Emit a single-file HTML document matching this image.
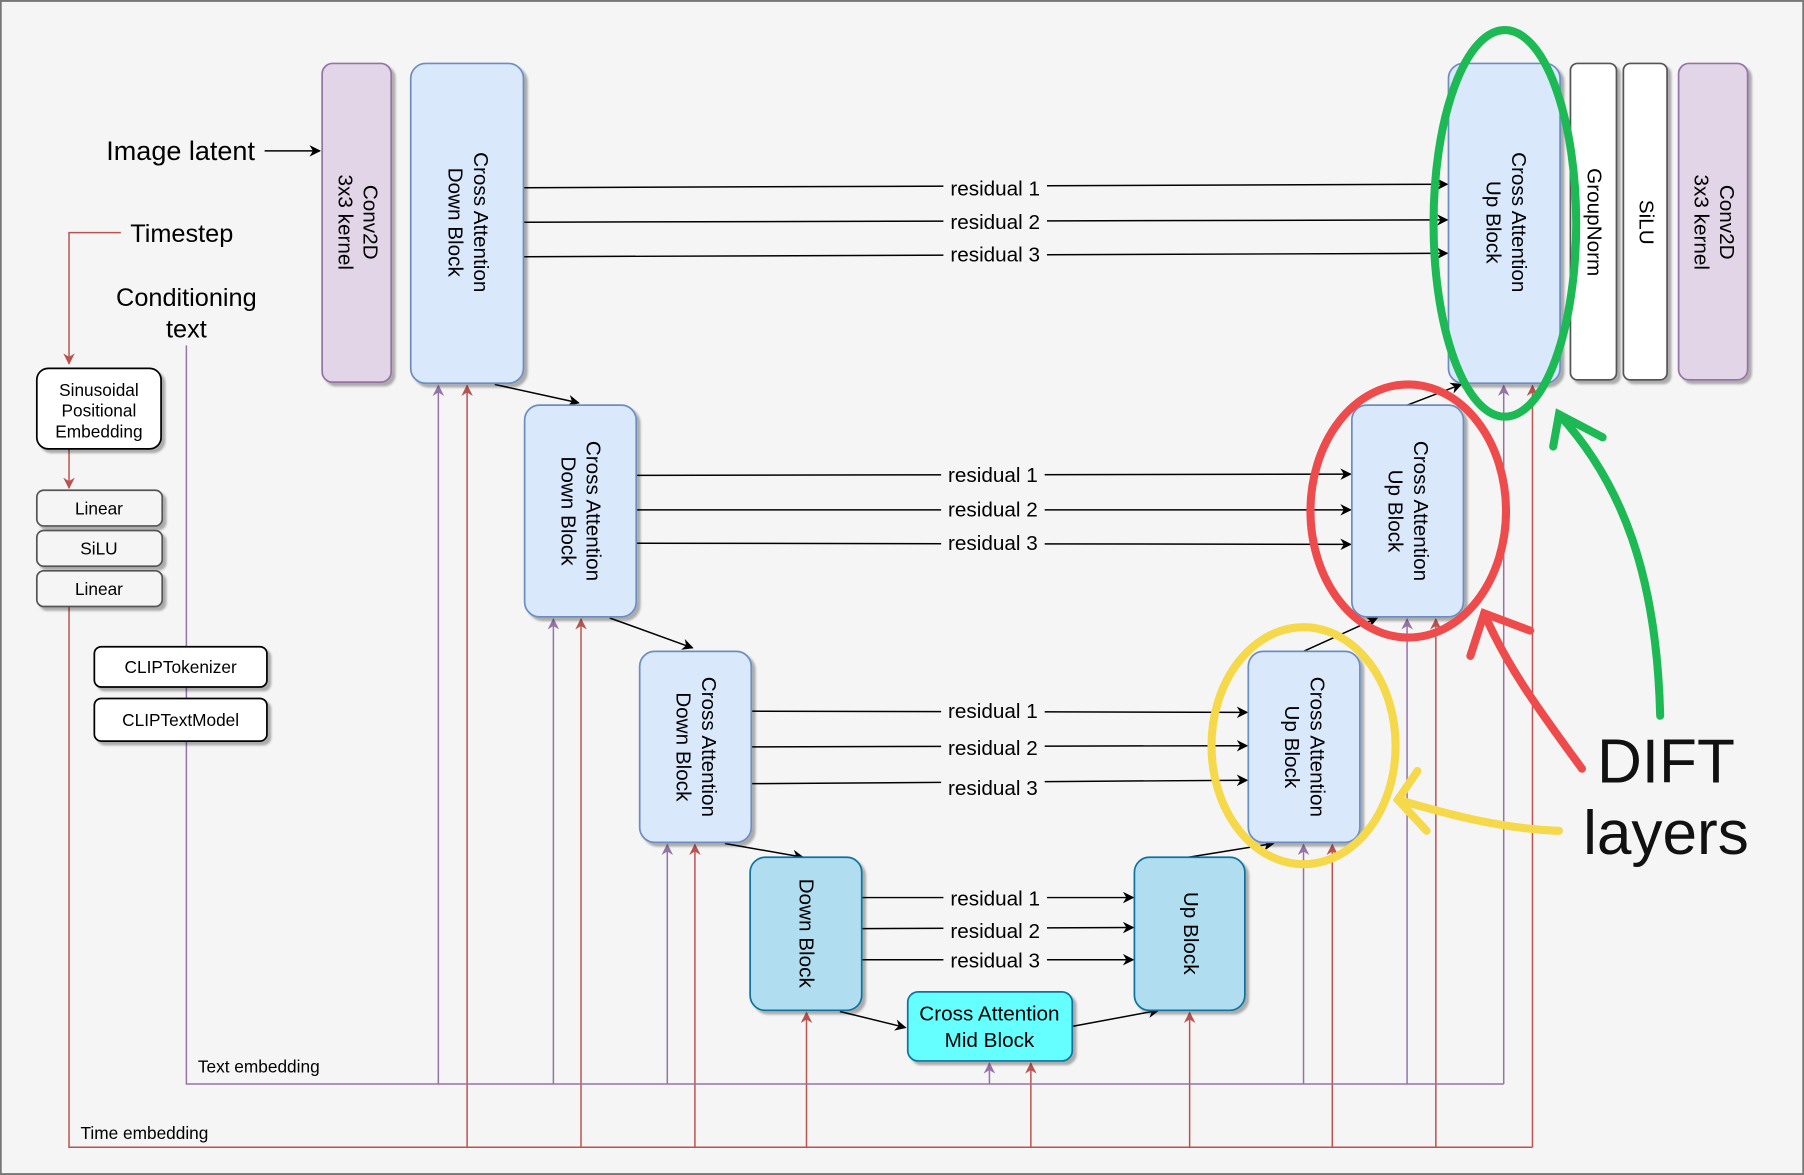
<!DOCTYPE html>
<html><head><meta charset="utf-8"><style>html,body{margin:0;padding:0;background:#f5f5f5}svg{display:block}text{font-family:"Liberation Sans",sans-serif}</style></head>
<body>
<svg width="1804" height="1175" viewBox="0 0 1568 1021" xmlns="http://www.w3.org/2000/svg">
<defs>
<marker id="ab" markerWidth="10" markerHeight="10" refX="9" refY="5" orient="auto" markerUnits="userSpaceOnUse"><path d="M0,0 L10,5 L0,10 L3,5 Z" fill="#000"/></marker>
<marker id="ar" markerWidth="10" markerHeight="10" refX="9" refY="5" orient="auto" markerUnits="userSpaceOnUse"><path d="M0,0 L10,5 L0,10 L3,5 Z" fill="#b85450"/></marker>
<marker id="ap" markerWidth="10" markerHeight="10" refX="9" refY="5" orient="auto" markerUnits="userSpaceOnUse"><path d="M0,0 L10,5 L0,10 L3,5 Z" fill="#9673a6"/></marker>
<filter id="sh" x="-10%" y="-10%" width="130%" height="130%"><feDropShadow dx="3" dy="3" stdDeviation="1" flood-color="#000" flood-opacity="0.3"/></filter>
</defs>
<rect x="0.5" y="0.5" width="1567" height="1020" fill="#f5f5f5" stroke="#777" stroke-width="2"/>

<g stroke="#b85450" stroke-width="1.3" fill="none">
<polyline points="105,202 60,202 60,316" marker-end="url(#ar)"/>
<line x1="60" y1="390" x2="60" y2="424" marker-end="url(#ar)"/>
<polyline points="60,527 60,997 1332,997"/>
<line x1="406" y1="997" x2="406" y2="335" marker-end="url(#ar)"/>
<line x1="505" y1="997" x2="505" y2="538" marker-end="url(#ar)"/>
<line x1="604" y1="997" x2="604" y2="734" marker-end="url(#ar)"/>
<line x1="701" y1="997" x2="701" y2="880" marker-end="url(#ar)"/>
<line x1="896" y1="997" x2="896" y2="924" marker-end="url(#ar)"/>
<line x1="1034" y1="997" x2="1034" y2="880" marker-end="url(#ar)"/>
<line x1="1158" y1="997" x2="1158" y2="734" marker-end="url(#ar)"/>
<line x1="1248" y1="997" x2="1248" y2="538" marker-end="url(#ar)"/>
<line x1="1332" y1="997" x2="1332" y2="335" marker-end="url(#ar)"/>
</g>
<g stroke="#9673a6" stroke-width="1.3" fill="none">
<polyline points="162,300 162,942 1307,942"/>
<line x1="381" y1="942" x2="381" y2="335" marker-end="url(#ap)"/>
<line x1="481" y1="942" x2="481" y2="538" marker-end="url(#ap)"/>
<line x1="580" y1="942" x2="580" y2="734" marker-end="url(#ap)"/>
<line x1="860" y1="942" x2="860" y2="924" marker-end="url(#ap)"/>
<line x1="1133" y1="942" x2="1133" y2="734" marker-end="url(#ap)"/>
<line x1="1223" y1="942" x2="1223" y2="538" marker-end="url(#ap)"/>
<line x1="1307" y1="942" x2="1307" y2="335" marker-end="url(#ap)"/>
</g>
<text x="172" y="932" font-size="15">Text embedding</text>
<text x="70" y="990" font-size="15">Time embedding</text>

<g stroke="#000" stroke-width="1.3" fill="none" marker-end="url(#ab)">
<line x1="455" y1="163" x2="1258" y2="160"/>
<line x1="455" y1="193" x2="1258" y2="191"/>
<line x1="455" y1="223" x2="1258" y2="220"/>
<line x1="553" y1="413" x2="1174" y2="412"/>
<line x1="553" y1="443" x2="1174" y2="443"/>
<line x1="553" y1="472" x2="1174" y2="473"/>
<line x1="653" y1="618" x2="1084" y2="619"/>
<line x1="653" y1="649" x2="1084" y2="648"/>
<line x1="653" y1="681" x2="1084" y2="678"/>
<line x1="749" y1="780" x2="985" y2="780"/>
<line x1="749" y1="807" x2="985" y2="806"/>
<line x1="749" y1="834" x2="985" y2="834"/>
<line x1="430" y1="334" x2="503" y2="350"/>
<line x1="530" y1="537" x2="602" y2="563"/>
<line x1="630" y1="733" x2="698" y2="745"/>
<line x1="730" y1="879" x2="787" y2="893"/>
<line x1="932" y1="892" x2="1007" y2="878"/>
<line x1="1033" y1="745" x2="1107" y2="733"/>
<line x1="1133" y1="566" x2="1197" y2="537"/>
<line x1="1223" y1="352" x2="1270" y2="334"/>
<line x1="230" y1="131" x2="278" y2="131"/>
</g>
<g font-size="18" text-anchor="middle">
<g fill="#f5f5f5"><rect x="820" y="152" width="90" height="22"/><rect x="820" y="182" width="90" height="22"/><rect x="820" y="210" width="90" height="22"/>
<rect x="818" y="401" width="90" height="22"/><rect x="818" y="431" width="90" height="22"/><rect x="818" y="460" width="90" height="22"/>
<rect x="818" y="606" width="90" height="22"/><rect x="818" y="638" width="90" height="22"/><rect x="818" y="673" width="90" height="22"/>
<rect x="820" y="769" width="90" height="22"/><rect x="820" y="796" width="90" height="22"/><rect x="820" y="823" width="90" height="22"/></g>
<text x="865" y="170">residual 1</text><text x="865" y="199">residual 2</text><text x="865" y="227">residual 3</text>
<text x="863" y="419">residual 1</text><text x="863" y="449">residual 2</text><text x="863" y="478">residual 3</text>
<text x="863" y="624">residual 1</text><text x="863" y="656">residual 2</text><text x="863" y="691">residual 3</text>
<text x="865" y="787">residual 1</text><text x="865" y="815">residual 2</text><text x="865" y="841">residual 3</text>
</g>

<g filter="url(#sh)" stroke-width="1.5">
<rect x="280" y="55" width="60" height="277" rx="9" fill="#e1d5e7" stroke="#9673a6"/>
<rect x="357" y="55" width="98" height="278" rx="13" fill="#dae8fc" stroke="#6c8ebf"/>
<rect x="456" y="352" width="97" height="184" rx="13" fill="#dae8fc" stroke="#6c8ebf"/>
<rect x="556" y="566" width="97" height="166" rx="13" fill="#dae8fc" stroke="#6c8ebf"/>
<rect x="652" y="745" width="97" height="133" rx="13" fill="#b1ddf0" stroke="#10739e"/>
<rect x="789" y="862" width="143" height="60" rx="9" fill="#66ffff" stroke="#10739e"/>
<rect x="986" y="745" width="96" height="133" rx="13" fill="#b1ddf0" stroke="#10739e"/>
<rect x="1085" y="566" width="97" height="166" rx="13" fill="#dae8fc" stroke="#6c8ebf"/>
<rect x="1175" y="352" width="97" height="184" rx="13" fill="#dae8fc" stroke="#6c8ebf"/>
<rect x="1259" y="55" width="97" height="278" rx="13" fill="#dae8fc" stroke="#6c8ebf"/>
<rect x="1365" y="55" width="40" height="275" rx="6" fill="#fff" stroke="#555"/>
<rect x="1411" y="55" width="38" height="275" rx="6" fill="#fff" stroke="#555"/>
<rect x="1459" y="55" width="60" height="275" rx="9" fill="#e1d5e7" stroke="#9673a6"/>
<rect x="32" y="320" width="108" height="70" rx="10" fill="#fff" stroke="#000"/>
<rect x="32" y="426" width="109" height="31" rx="6" fill="#f5f5f5" stroke="#555"/>
<rect x="32" y="461" width="109" height="31" rx="6" fill="#f5f5f5" stroke="#555"/>
<rect x="32" y="496" width="109" height="31" rx="6" fill="#f5f5f5" stroke="#555"/>
<rect x="82" y="562" width="150" height="35" rx="6" fill="#fff" stroke="#000"/>
<rect x="82" y="607" width="150" height="37" rx="6" fill="#fff" stroke="#000"/>
</g>

<g font-size="18" text-anchor="middle">
<text transform="translate(310,193) rotate(90)"><tspan x="0" y="-6">Conv2D</tspan><tspan x="0" y="16">3x3 kernel</tspan></text>
<text transform="translate(406,193) rotate(90)"><tspan x="0" y="-6">Cross Attention</tspan><tspan x="0" y="16">Down Block</tspan></text>
<text transform="translate(504,444) rotate(90)"><tspan x="0" y="-6">Cross Attention</tspan><tspan x="0" y="16">Down Block</tspan></text>
<text transform="translate(604,649) rotate(90)"><tspan x="0" y="-6">Cross Attention</tspan><tspan x="0" y="16">Down Block</tspan></text>
<text transform="translate(700,811) rotate(90)"><tspan x="0" y="5">Down Block</tspan></text>
<text transform="translate(1034,811) rotate(90)"><tspan x="0" y="5">Up Block</tspan></text>
<text transform="translate(1133,649) rotate(90)"><tspan x="0" y="-6">Cross Attention</tspan><tspan x="0" y="16">Up Block</tspan></text>
<text transform="translate(1223,444) rotate(90)"><tspan x="0" y="-6">Cross Attention</tspan><tspan x="0" y="16">Up Block</tspan></text>
<text transform="translate(1308,193) rotate(90)"><tspan x="0" y="-6">Cross Attention</tspan><tspan x="0" y="16">Up Block</tspan></text>
<text transform="translate(1385,193) rotate(90)"><tspan x="0" y="5">GroupNorm</tspan></text>
<text transform="translate(1430,193) rotate(90)"><tspan x="0" y="5">SiLU</tspan></text>
<text transform="translate(1489,193) rotate(90)"><tspan x="0" y="-6">Conv2D</tspan><tspan x="0" y="16">3x3 kernel</tspan></text>
<text x="860" y="887">Cross Attention</text><text x="860" y="910">Mid Block</text>
</g>
<g font-size="15" text-anchor="middle">
<text x="86" y="344">Sinusoidal</text><text x="86" y="362">Positional</text><text x="86" y="380">Embedding</text>
<text x="86" y="447">Linear</text><text x="86" y="482">SiLU</text><text x="86" y="517">Linear</text>
<text x="157" y="585">CLIPTokenizer</text><text x="157" y="631">CLIPTextModel</text>
</g>
<g font-size="22" text-anchor="middle">
<text x="157" y="139" font-size="23.5">Image latent</text>
<text x="158" y="210">Timestep</text>
<text x="162" y="266">Conditioning</text><text x="162" y="293">text</text>
</g>

<g fill="none" stroke-width="7" stroke-linecap="round">
<ellipse cx="1308" cy="194" rx="62" ry="168" stroke="#1db954"/>
<ellipse cx="1224" cy="444" rx="85" ry="110" stroke="#ee4c4c"/>
<ellipse cx="1133" cy="648" rx="80" ry="103" stroke="#f5d94a"/>
<path d="M1443,622 C1440,500 1410,420 1355,360" stroke="#1db954"/>
<path d="M1350,388 L1355,360 L1393,380" stroke="#1db954"/>
<path d="M1375,668 C1340,620 1310,580 1290,533" stroke="#ee4c4c"/>
<path d="M1278,570 L1290,533 L1330,548" stroke="#ee4c4c"/>
<path d="M1355,722 C1300,720 1250,705 1215,695" stroke="#f5d94a"/>
<path d="M1232,670 L1215,695 L1240,722" stroke="#f5d94a"/>
</g>
<g font-size="54" text-anchor="middle" fill="#111">
<text x="1448" y="680">DIFT</text><text x="1448" y="742">layers</text>
</g>
</svg>
</body></html>
